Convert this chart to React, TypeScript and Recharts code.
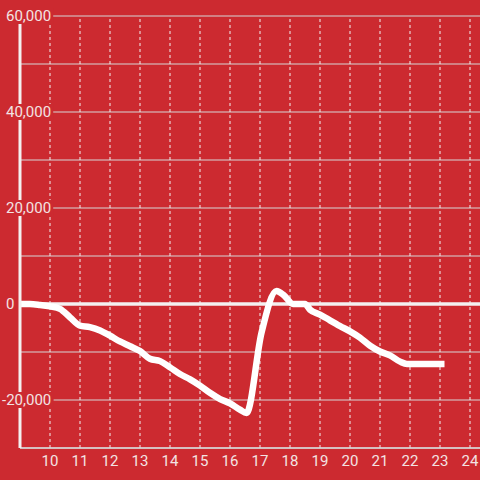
import React from 'react';
import {
  LineChart,
  Line,
  XAxis,
  YAxis,
  CartesianGrid,
  ReferenceLine,
} from 'recharts';

// hour of day and running net value
const HOURS = [
  9, 9.33, 9.67, 10, 10.33, 10.67, 11, 11.33, 11.67, 12, 12.33, 12.67, 13, 13.33,
  13.67, 14, 14.33, 14.67, 15, 15.33, 15.67, 16, 16.33, 16.55, 17.05, 17.55, 17.8,
  18.1, 18.5, 18.67, 19, 19.33, 19.67, 20, 20.33, 20.67, 21, 21.33, 21.67, 21.9,
  22.33, 22.67, 23, 23.15,
];
const NET = [
  0, 0, -200, -500, -1000, -2800, -4500, -4800, -5500, -6600, -7800, -8800, -9800,
  -11400, -11900, -13200, -14600, -15700, -17000, -18500, -19800, -20700, -22000,
  -22700, -6000, 2700, 1800, 0, 0, -1200, -2200, -3400, -4600, -5700, -7000, -8700,
  -9900, -10700, -12000, -12500, -12500, -12500, -12500, -12500,
];
const X_TICKS = [10, 11, 12, 13, 14, 15, 16, 17, 18, 19, 20, 21, 22, 23, 24];
const Y_TICKS = [-30000, -20000, -10000, 0, 10000, 20000, 30000, 40000, 50000, 60000];

const BG = '#cc2a30';
const TEXT = '#f3e3e3';
const FONT = 'Roboto, sans-serif';

const data = HOURS.map((h, i) => ({ h, v: NET[i] }));

// rough glyph widths for Roboto at 15px, used to size the label backdrop
const textWidth = (s: string) =>
  s.split('').reduce((w, c) => w + (c === ',' ? 3.2 : c === '-' ? 4.4 : 8.4), 0);

const YTick = ({ y, payload }: any) => {
  const v = payload.value;
  if (v % 20000 !== 0) return <g />;
  const label = v.toLocaleString('en-US');
  const tx = v < 0 ? 2 : 6;
  const w = textWidth(label);
  return (
    <g>
      <rect x={tx - 1} y={y - 8} width={w + 3} height={16} fill={BG} />
      <text x={tx} y={y} dy="0.35em" fill={TEXT} fontSize={15} fontFamily={FONT} textAnchor="start">
        {label}
      </text>
    </g>
  );
};

const XTick = ({ x, y, payload }: any) => (
  <text x={x} y={y + 13} dy="0.35em" fill={TEXT} fontSize={15} fontFamily={FONT} textAnchor="middle">
    {payload.value}
  </text>
);

export default function App() {
  return (
    <div style={{ position: 'absolute', top: 0, left: 0, width: 480, height: 480, background: BG, overflow: 'hidden' }}>
      <LineChart width={480} height={480} data={data} margin={{ top: 16, right: 0, bottom: 0, left: 0 }}>
        <CartesianGrid vertical={false} stroke="#d6d6d6" strokeWidth={1} />
        {/* dashed hour lines */}
        {X_TICKS.map((t) => (
          <ReferenceLine key={t} x={t} stroke="#f2f2f2" strokeDasharray="3 3" strokeWidth={1} />
        ))}
        <ReferenceLine y={0} stroke="#f4f0f0" strokeWidth={3.5} />
        <XAxis
          dataKey="h"
          type="number"
          domain={[9, 24.333]}
          ticks={X_TICKS}
          allowDataOverflow
          height={32}
          tickSize={0}
          tickMargin={0}
          axisLine={{ stroke: '#d6d6d6', strokeWidth: 1.5 }}
          tickLine={false}
          tick={<XTick />}
        />
        <YAxis
          type="number"
          domain={[-30000, 60000]}
          ticks={Y_TICKS}
          width={20}
          tickSize={0}
          tickLine={false}
          axisLine={{ stroke: '#f4f0f0', strokeWidth: 3 }}
          tick={<YTick />}
        />
        <Line
          dataKey="v"
          type="monotone"
          stroke="#ffffff"
          strokeWidth={6.5}
          strokeLinejoin="round"
          dot={false}
          activeDot={false}
          isAnimationActive={false}
        />
      </LineChart>
    </div>
  );
}
